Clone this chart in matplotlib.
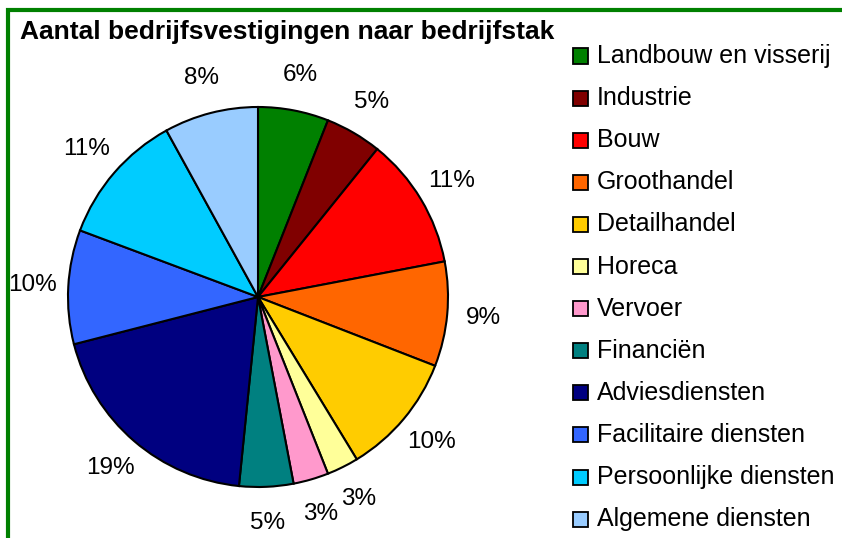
import matplotlib.pyplot as plt
from matplotlib.patches import Rectangle

plt.rcParams['font.family'] = ['Liberation Sans', 'DejaVu Sans']

# sector names, shares (%) and colours, clockwise from 12 o'clock
sectors = ['Landbouw en visserij', 'Industrie', 'Bouw', 'Groothandel',
           'Detailhandel', 'Horeca', 'Vervoer', 'Financiën', 'Adviesdiensten',
           'Facilitaire diensten', 'Persoonlijke diensten', 'Algemene diensten']
shares = [6.0, 4.8, 11.2, 8.9, 10.4, 2.7, 3.0, 4.6, 19.4, 9.7, 11.3, 8.0]
colors = ['#008000', '#800000', '#FF0000', '#FF6600', '#FFCC00', '#FFFF99',
          '#FF99CC', '#008080', '#000080', '#3366FF', '#00CCFF', '#99CCFF']

W, H = 842, 538
fig = plt.figure(figsize=(W / 100, H / 100), dpi=100)

# pie axes: centre (258, 297) px, radius 190 px
cx, cy, r = 258, 297, 190
ax = fig.add_axes([(cx - r) / W, (H - cy - r) / H, 2 * r / W, 2 * r / H])
ax.pie(shares, colors=colors, startangle=90, counterclock=False,
       autopct=lambda p: '%d%%' % round(p), pctdistance=1.19,
       wedgeprops=dict(edgecolor='black', linewidth=1.5),
       textprops=dict(fontsize=17.5, color='black'))
ax.set_xlim(-1, 1)
ax.set_ylim(-1, 1)
ax.set_aspect('equal')
ax.axis('off')

# title
fig.text(20 / W, 1 - 32 / H, 'Aantal bedrijfsvestigingen naar bedrijfstak',
         fontsize=19, fontweight='bold', va='center', ha='left')

# legend drawn by hand
for i, (name, col) in enumerate(zip(sectors, colors)):
    y = 56 + i * 42.1
    fig.patches.append(Rectangle((573 / W, 1 - (y + 7.5) / H), 15 / W, 15 / H,
                                 transform=fig.transFigure, facecolor=col,
                                 edgecolor='black', linewidth=1.3))
    fig.text(597 / W, 1 - y / H, name, fontsize=18, va='center', ha='left')

# green frame (right/bottom edges fall outside the image)
fig.patches.append(Rectangle((8 / W, -0.05), 1.1, 1 - 10 / H + 0.05,
                             transform=fig.transFigure, facecolor='none',
                             edgecolor='#008000', linewidth=3, zorder=10))

fig.savefig('out.png', dpi=100)
